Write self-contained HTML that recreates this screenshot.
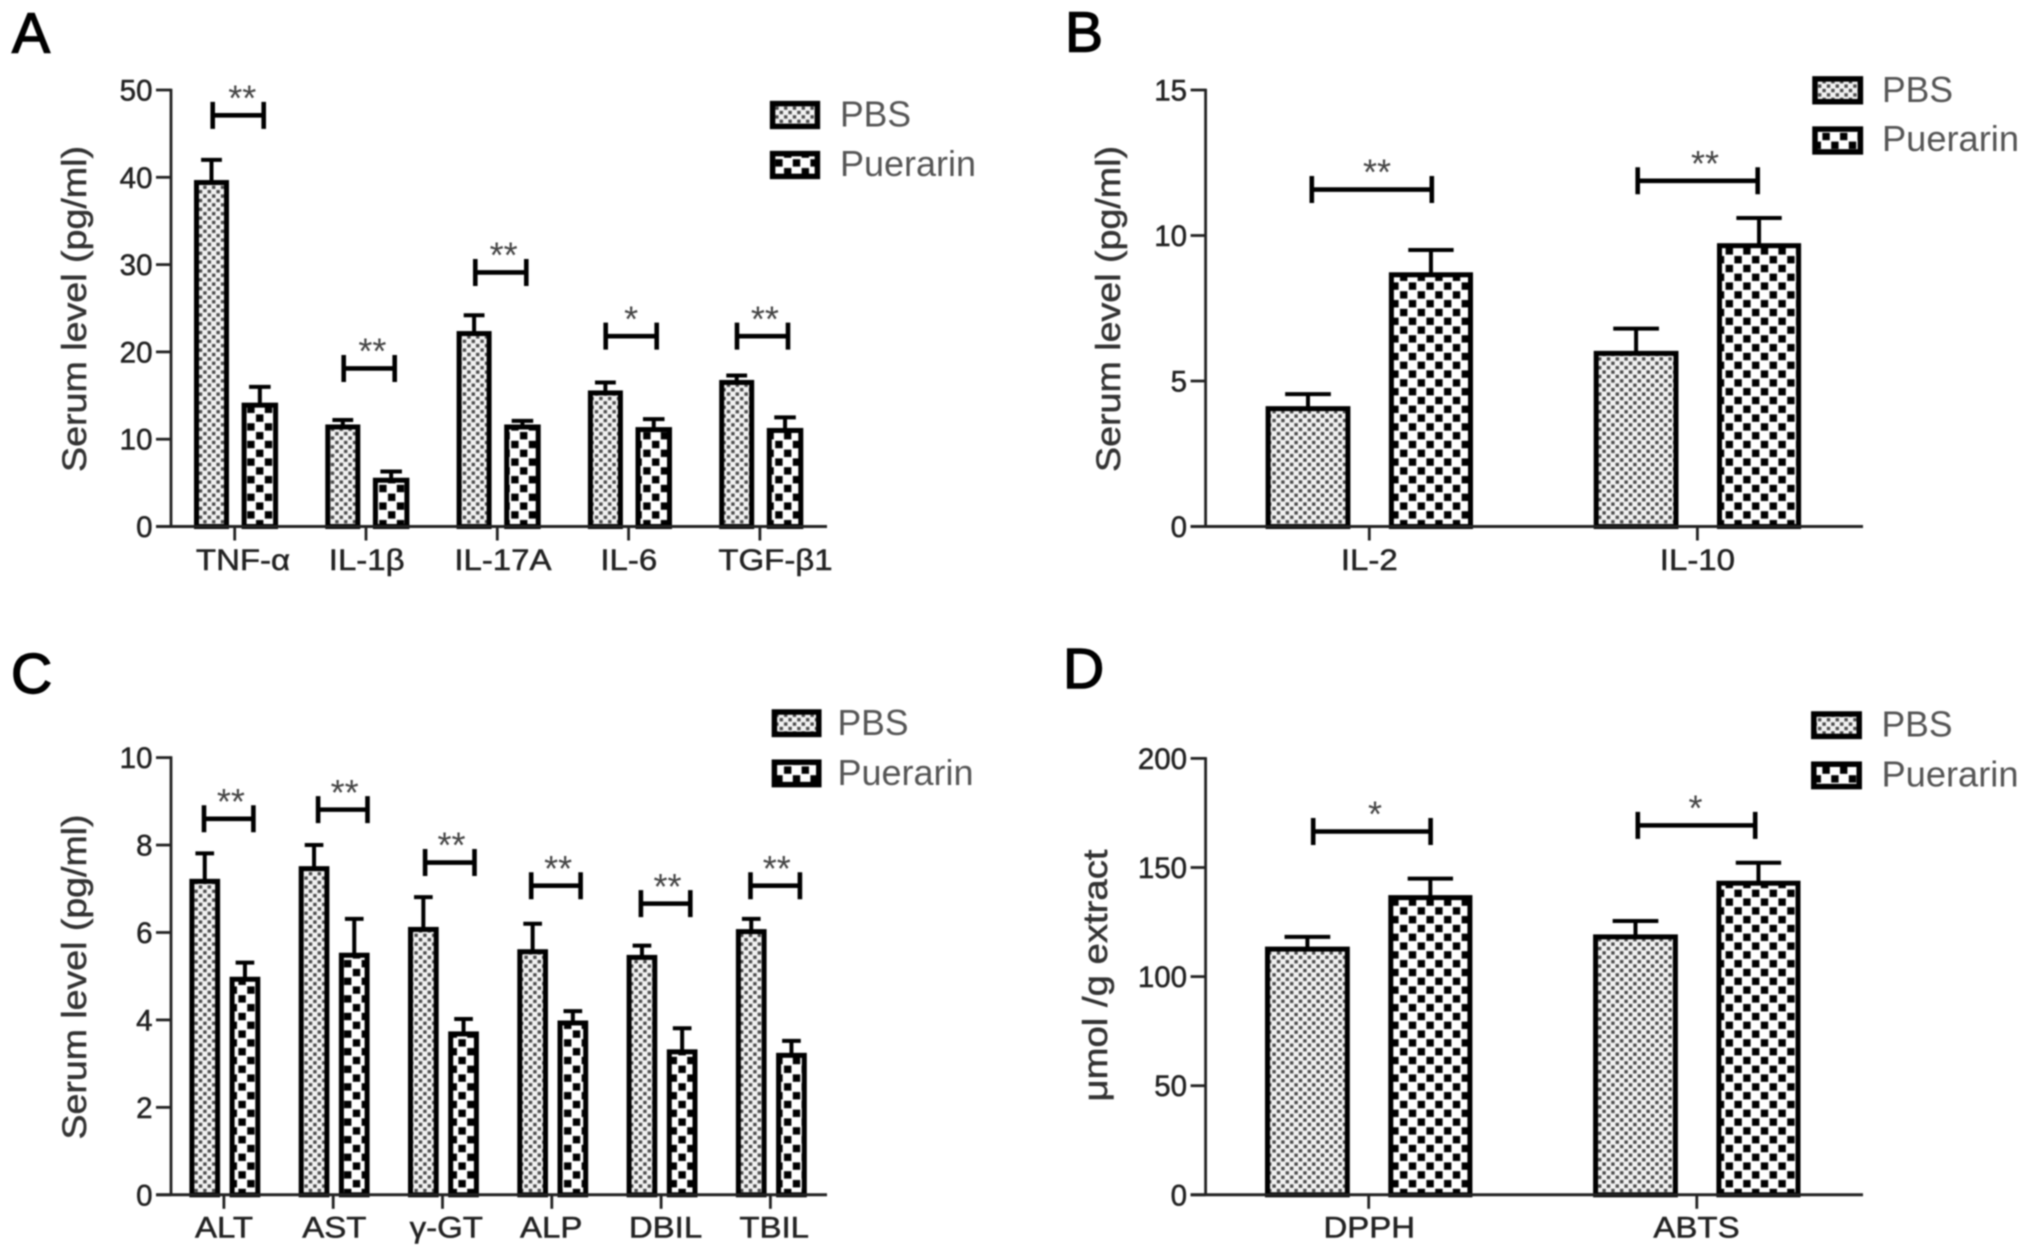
<!DOCTYPE html>
<html lang="en">
<head>
<meta charset="utf-8">
<title>Serum levels: PBS vs Puerarin</title>
<style>
html,body{margin:0;padding:0;background:#fff;}
svg{display:block;filter:blur(.7px);font-family:"Liberation Sans","DejaVu Sans",sans-serif;}
.letter{font-size:57px;fill:#000;stroke:#000;stroke-width:1.4px;}
.ytitle{font-size:34px;fill:#333;stroke:#333;stroke-width:.5px;text-anchor:middle;}
.legtxt{font-size:36px;fill:#555;}
.legbox{stroke:#000;stroke-width:5.5;}
</style>
</head>
<body>
<svg id="fig" xmlns="http://www.w3.org/2000/svg" width="2031" height="1259" viewBox="0 0 2031 1259">
<defs>
<pattern id="pbsFill" width="8.8" height="8.8" patternUnits="userSpaceOnUse">
<rect width="8.8" height="8.8" fill="#f2f2f2"/>
<rect x="0.8" y="0.8" width="3.4" height="3.4" fill="#4a4a4a"/>
<rect x="5.2" y="5.2" width="3.4" height="3.4" fill="#4a4a4a"/>
</pattern>
<pattern id="pueFill" width="17.6" height="17.6" patternUnits="userSpaceOnUse">
<rect width="17.6" height="17.6" fill="#fff"/>
<rect x="0.8" y="0.8" width="7.4" height="7.4" fill="#000"/>
<rect x="9.6" y="9.6" width="7.4" height="7.4" fill="#000"/>
</pattern>
</defs>
<rect width="2031" height="1259" fill="#fff"/>

<g id="panelA">
<text class="letter" x="12" y="52.5">A</text>
<text class="ytitle" transform="translate(86,309) rotate(-90)" textLength="326" lengthAdjust="spacingAndGlyphs">Serum level (pg/ml)</text>
<rect class="legbox" x="772.6" y="103.6" width="44.8" height="22.8" fill="url(#pbsFill)"/>
<text class="legtxt" x="840" y="126.5" textLength="71" lengthAdjust="spacingAndGlyphs">PBS</text>
<rect class="legbox" x="772.6" y="153.6" width="44.8" height="22.8" fill="url(#pueFill)"/>
<text class="legtxt" x="840" y="176" textLength="136" lengthAdjust="spacingAndGlyphs">Puerarin</text>
</g>

<g id="panelB">
<text class="letter" x="1065" y="51.5">B</text>
<text class="ytitle" transform="translate(1120,309) rotate(-90)" textLength="326" lengthAdjust="spacingAndGlyphs">Serum level (pg/ml)</text>
<rect class="legbox" x="1815" y="78.9" width="45.4" height="22.8" fill="url(#pbsFill)"/>
<text class="legtxt" x="1882" y="102" textLength="71" lengthAdjust="spacingAndGlyphs">PBS</text>
<rect class="legbox" x="1815" y="129.1" width="45.4" height="22.8" fill="url(#pueFill)"/>
<text class="legtxt" x="1882" y="151" textLength="137" lengthAdjust="spacingAndGlyphs">Puerarin</text>
</g>

<g id="panelC">
<text class="letter" x="11" y="693">C</text>
<text class="ytitle" transform="translate(86,977) rotate(-90)" textLength="325" lengthAdjust="spacingAndGlyphs">Serum level (pg/ml)</text>
<rect class="legbox" x="774.4" y="712" width="44.4" height="22.4" fill="url(#pbsFill)"/>
<text class="legtxt" x="837.5" y="735" textLength="71" lengthAdjust="spacingAndGlyphs">PBS</text>
<rect class="legbox" x="774.4" y="762.2" width="44.4" height="22.4" fill="url(#pueFill)"/>
<text class="legtxt" x="837.5" y="785" textLength="136" lengthAdjust="spacingAndGlyphs">Puerarin</text>
</g>

<g id="panelD">
<text class="letter" x="1063" y="688">D</text>
<text class="ytitle" transform="translate(1107,975.5) rotate(-90)" textLength="252" lengthAdjust="spacingAndGlyphs">μmol /g extract</text>
<rect class="legbox" x="1813.8" y="714" width="45.4" height="22.4" fill="url(#pbsFill)"/>
<text class="legtxt" x="1881.5" y="736.3" textLength="71" lengthAdjust="spacingAndGlyphs">PBS</text>
<rect class="legbox" x="1813.8" y="764.2" width="45.4" height="22.4" fill="url(#pueFill)"/>
<text class="legtxt" x="1881.5" y="786.4" textLength="137" lengthAdjust="spacingAndGlyphs">Puerarin</text>
</g>
</svg>

<script>
// Panel A data
const aCategories = ["TNF-α", "IL-1β", "IL-17A", "IL-6", "TGF-β1"];
const aYTicks = [0, 10, 20, 30, 40, 50];
const aPbs = [39.4, 11.4, 22.1, 15.3, 16.5];
const aPbsErr = [2.6, 0.8, 2.1, 1.2, 0.8];
const aPuerarin = [13.9, 5.3, 11.4, 11.1, 11.0];
const aPuerarinErr = [2.1, 1.0, 0.7, 1.2, 1.5];
const aBracketLevels = [47.1, 18.1, 29.1, 21.8, 21.8];
const aStars = ["**", "**", "**", "*", "**"];

// Panel B data
const bCategories = ["IL-2", "IL-10"];
const bYTicks = [0, 5, 10, 15];
const bPbs = [4.05, 5.95];
const bPbsErr = [0.5, 0.85];
const bPuerarin = [8.65, 9.65];
const bPuerarinErr = [0.85, 0.95];
const bBracketLevels = [11.58, 11.88];
const bStars = ["**", "**"];

// Panel C data
const cCategories = ["ALT", "AST", "γ-GT", "ALP", "DBIL", "TBIL"];
const cYTicks = [0, 2, 4, 6, 8, 10];
const cPbs = [7.17, 7.46, 6.07, 5.56, 5.43, 6.02];
const cPbsErr = [0.64, 0.54, 0.74, 0.64, 0.27, 0.29];
const cPuerarin = [4.93, 5.48, 3.68, 3.93, 3.27, 3.19];
const cPuerarinErr = [0.38, 0.83, 0.34, 0.27, 0.54, 0.33];
const cBracketLevels = [8.6, 8.81, 7.6, 7.07, 6.66, 7.07];
const cStars = ["**", "**", "**", "**", "**", "**"];

// Panel D data
const dCategories = ["DPPH", "ABTS"];
const dYTicks = [0, 50, 100, 150, 200];
const dPbs = [112.6, 118.2];
const dPbsErr = [5.6, 7.3];
const dPuerarin = [136.2, 142.8];
const dPuerarinErr = [8.7, 9.4];
const dBracketLevels = [166.5, 169.3];
const dStars = ["*", "*"];

const SVGNS = "http://www.w3.org/2000/svg";

function make(parent, tag, props, text) {
  const node = document.createElementNS(SVGNS, tag);
  for (const k in props) node.setAttribute(k, props[k]);
  if (text !== undefined) node.textContent = text;
  parent.appendChild(node);
  return node;
}

function drawPanel(p) {
  const root = document.getElementById(p.id);
  const yScale = v => p.y0 - (v / p.yMax) * (p.y0 - p.yTop);
  const xScale = i => p.firstX + i * p.stepX;

  // y ticks and labels
  p.yTicks.forEach(t => {
    const y = yScale(t);
    const tick = make(root, "line", {x1: p.axisX - 15, x2: p.axisX, y1: y, y2: y, stroke: "#222", "stroke-width": 2.8});
    
    
    const lab = make(root, "text", {x: p.axisX - 18.5, y: y + 10.5, "text-anchor": "end", "font-size": 29.5, fill: "#222", stroke: "#222", "stroke-width": 0.5}, String(t));
    
    
  });

  // bars and error bars
  function series(values, errs, left, right, fill, sname) {
    values.forEach((v, i) => {
      const cx = xScale(i);
      const sw = 5;
      const x0 = cx + left + 1.8;
      const w = right - left - 3.6;
      const y = yScale(v);
      const mid = x0 + w / 2;
      const top = yScale(v + errs[i]);
      const capW = (right - left) / 2 + 4;
      const stem = make(root, "line", {x1: mid, x2: mid, y1: y, y2: top, stroke: "#000", "stroke-width": 4});
      
      
      const cap = make(root, "line", {x1: mid - capW / 2, x2: mid + capW / 2, y1: top, y2: top, stroke: "#000", "stroke-width": 4});
      
      
      const bar = make(root, "rect", {x: x0, y: y, width: w, height: p.y0 - y, fill: fill, stroke: "#000", "stroke-width": sw});
      
      bar.setAttribute('data-series', sname);
      
    });
  }
  series(p.pbs, p.pbsErr, p.pbsL, p.pbsR, "url(#pbsFill)", "pbs");
  series(p.pue, p.pueErr, p.pueL, p.pueR, "url(#pueFill)", "puerarin");

  // axes
  const yAxis = make(root, "line", {x1: p.axisX, x2: p.axisX, y1: p.yTop - 1.3, y2: p.y0, stroke: "#222", "stroke-width": 2.8});
  
  
  const xAxis = make(root, "line", {x1: p.axisX - 15, x2: p.xEnd, y1: p.y0, y2: p.y0, stroke: "#222", "stroke-width": 3});
  
  

  // x ticks and labels
  p.cats.forEach((c, i) => {
    const x = xScale(i);
    const tick = make(root, "line", {x1: x, x2: x, y1: p.y0, y2: p.y0 + 14, stroke: "#222", "stroke-width": 2.8});
    
    
    const lab = make(root, "text", {
      transform: "translate(" + (x + p.labelShift[i]) + "," + p.labelY + ") scale(1.1,1)",
      "text-anchor": "middle", "font-size": 30, fill: "#222", stroke: "#222", "stroke-width": 0.5
    }, c);
    
    
  });

  // significance brackets
  p.levels.forEach((lv, i) => {
    const y = yScale(lv);
    const cx = xScale(i) + p.bracketShift[i];
    const l = cx - p.bracketHalf, r = cx + p.bracketHalf;
    const h = 13.5;
    const bar = make(root, "path", {
      d: "M" + l + " " + (y - h) + "V" + (y + h) + "M" + r + " " + (y - h) + "V" + (y + h) + "M" + l + " " + y + "H" + r,
      fill: "none", stroke: "#000", "stroke-width": 4.6
    });
    
    
    const star = make(root, "text", {
      x: xScale(i) + p.starShift[i], y: y - 25.5 + 20.7,
      "text-anchor": "middle", "font-size": 36, fill: "#444"
    }, p.stars[i]);
    
    
  });
}

drawPanel({
  id: "panelA", cats: aCategories, yTicks: aYTicks, pbs: aPbs, pbsErr: aPbsErr, pue: aPuerarin, pueErr: aPuerarinErr,
  levels: aBracketLevels, stars: aStars,
  axisX: 171, xEnd: 827, y0: 526.5, yTop: 90, yMax: 50, firstX: 234.7, stepX: 131.3,
  pbsL: -40, pbsR: -6.4, pueL: 7.6, pueR: 42.7,
  labelShift: [8.3, 0.7, 5.6, 0.2, 15.6], labelY: 570,
  bracketHalf: 25.5, bracketShift: [3.5, 3.2, 3.5, 2.6, 2.6], starShift: [7.6, 6.4, 6.4, 2.5, 5]
});
drawPanel({
  id: "panelB", cats: bCategories, yTicks: bYTicks, pbs: bPbs, pbsErr: bPbsErr, pue: bPuerarin, pueErr: bPuerarinErr,
  levels: bBracketLevels, stars: bStars,
  axisX: 1205.6, xEnd: 1863, y0: 526.5, yTop: 90, yMax: 15, firstX: 1369.3, stepX: 328.1,
  pbsL: -103, pbsR: -19.6, pueL: 20.3, pueR: 103,
  labelShift: [0, 0], labelY: 570,
  bracketHalf: 60, bracketShift: [2.5, 0.3], starShift: [7.7, 7.6]
});
drawPanel({
  id: "panelC", cats: cCategories, yTicks: cYTicks, pbs: cPbs, pbsErr: cPbsErr, pue: cPuerarin, pueErr: cPuerarinErr,
  levels: cBracketLevels, stars: cStars,
  axisX: 171, xEnd: 827, y0: 1194.8, yTop: 757.6, yMax: 10, firstX: 223.9, stepX: 109.3,
  pbsL: -33.8, pbsR: -4.5, pueL: 6.4, pueR: 35.7,
  labelShift: [0.1, 1.1, 3.8, -0.6, 4.4, 3.8], labelY: 1237.7,
  bracketHalf: 24.7, bracketShift: [4.8, 9.6, 7.3, 4.1, 4.5, 4.8], starShift: [7, 11.5, 9, 6.4, 6.4, 6.4]
});
drawPanel({
  id: "panelD", cats: dCategories, yTicks: dYTicks, pbs: dPbs, pbsErr: dPbsErr, pue: dPuerarin, pueErr: dPuerarinErr,
  levels: dBracketLevels, stars: dStars,
  axisX: 1205.6, xEnd: 1863, y0: 1194.8, yTop: 758.4, yMax: 200, firstX: 1368.7, stepX: 328.1,
  pbsL: -103, pbsR: -19.6, pueL: 20.3, pueR: 103,
  labelShift: [0.6, -0.3], labelY: 1237.7,
  bracketHalf: 58.7, bracketShift: [3.2, -0.3], starShift: [6.3, -1.3]
});
</script>
</body>
</html>
